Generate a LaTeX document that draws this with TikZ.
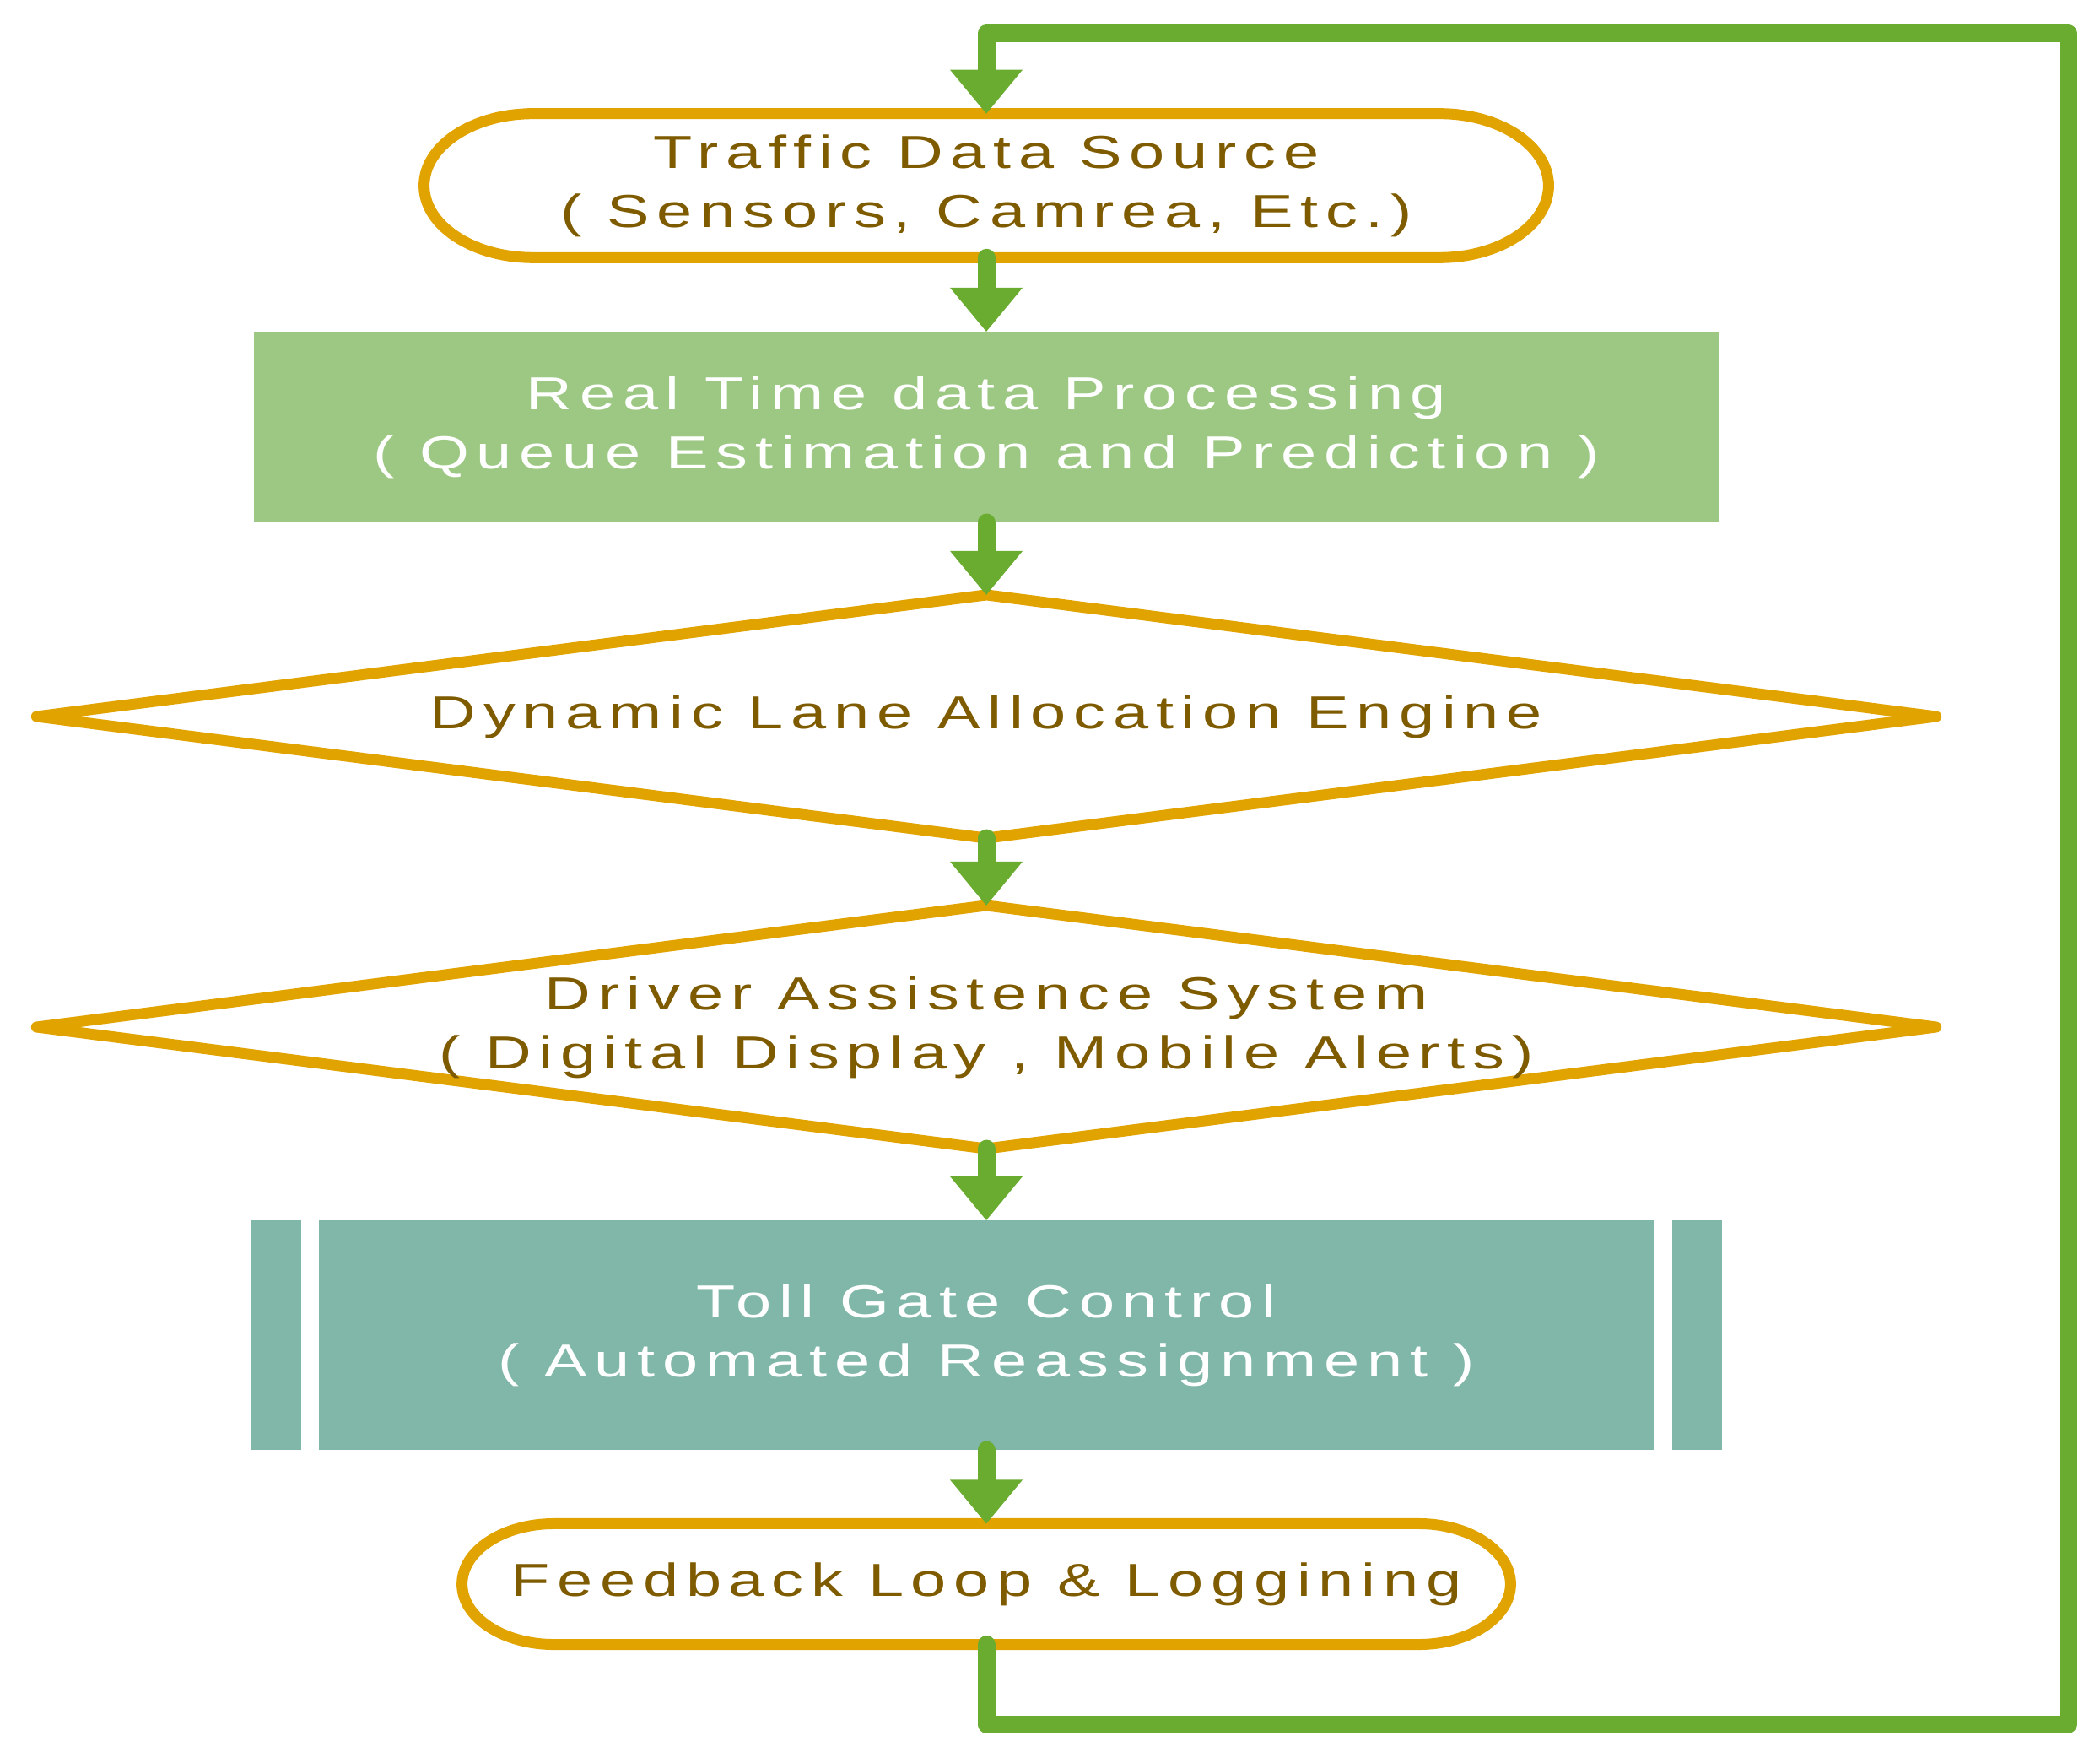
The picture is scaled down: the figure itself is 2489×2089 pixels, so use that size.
\documentclass[tikz,border=0pt]{standalone}
\usepackage{fontspec}
\setmainfont{Liberation Sans}[FakeStretch=1.38,LetterSpace=16]
\usetikzlibrary{arrows.meta,shapes.geometric}

\definecolor{edgeorange}{HTML}{E0A300}
\definecolor{textbrown}{HTML}{7F5B00}
\definecolor{flowgreen}{HTML}{6AAC2F}
\definecolor{procgreen}{HTML}{9DC884}
\definecolor{gateteal}{HTML}{80B7A8}

\begin{document}
\begin{tikzpicture}[x=0.01cm, y=-0.01cm,
    txt/.style={font=\fontsize{15.6}{19.9}\selectfont, align=center, inner sep=0pt, outer sep=0pt},
    terminal/.style={txt, text=textbrown},
    process/.style={txt, text=white, fill=procgreen, minimum width=17.36cm, minimum height=2.26cm},
    decision/.style={txt, text=textbrown, diamond, aspect=7.8, draw=edgeorange, line width=0.13cm,
        line join=round, fill=white, minimum width=22.5cm, minimum height=2.88cm},
    gatebox/.style={txt, text=white, fill=gateteal, minimum width=17.42cm, minimum height=2.72cm},
    edge/.style={draw=edgeorange, line width=0.13cm},
    flow/.style={draw=flowgreen, line width=0.21cm, line cap=round, line join=round,
        -{Triangle[width=0.86cm, length=0.52cm, line width=0pt]}}]

    % Parametry
    \def\rxa{1.29cm}   % end radius, top terminal
    \def\rya{0.8525cm}
    \def\rxb{1.09cm}   % end radius, bottom terminal
    \def\ryb{0.715cm}

    \useasboundingbox (0,0) rectangle (2489,2089);

    % Source
    \node[terminal, minimum width=13.32cm, minimum height=1.705cm] (src) at (1169,220)
        {Traffic Data Source\\( Sensors, Camrea, Etc.)};
    \draw[edge] ([xshift=\rxa]src.north west) -- ([xshift=-\rxa]src.north east)
        arc[start angle=90, end angle=-90, x radius=\rxa, y radius=\rya]
        -- ([xshift=\rxa]src.south west)
        arc[start angle=270, end angle=90, x radius=\rxa, y radius=\rya] -- cycle;

    % Processing
    \node[process] (proc) at (1169,506)
        {Real Time data Processing\\( Queue Estimation and Prediction )};

    % Decisions
    \node[decision] (dyn) at (1169,849) {Dynamic Lane Allocation Engine};
    \node[decision] (drv) at (1169,1217)
        {Driver Assistence System\\( Digital Display , Mobile Alerts)};

    % Toll gate
    \node[gatebox] (gate) at (1169,1582)
        {Toll Gate Control\\( Automated Reassignment )};
    \draw[white, line width=0.21cm] ([xshift=0.695cm]gate.north west) -- ([xshift=0.695cm]gate.south west);
    \draw[white, line width=0.21cm] ([xshift=-0.695cm]gate.north east) -- ([xshift=-0.695cm]gate.south east);

    % Feedback
    \node[terminal, minimum width=12.42cm, minimum height=1.43cm] (fb) at (1169,1877)
        {Feedback Loop \& Loggining};
    \draw[edge] ([xshift=\rxb]fb.north west) -- ([xshift=-\rxb]fb.north east)
        arc[start angle=90, end angle=-90, x radius=\rxb, y radius=\ryb]
        -- ([xshift=\rxb]fb.south west)
        arc[start angle=270, end angle=90, x radius=\rxb, y radius=\ryb] -- cycle;

    % Arrows
    \draw[flow] (src.south) -- (proc.north);
    \draw[flow] (proc.south) -- (dyn.north);
    \draw[flow] (dyn.south) -- (drv.north);
    \draw[flow] (drv.south) -- (gate.north);
    \draw[flow] (gate.south) -- (fb.north);

    % Loop back
    \coordinate (loopbr) at (2451,2043);
    \coordinate (looptr) at (2451,39.5);
    \draw[flow] (fb.south) |- (loopbr) -- (looptr) -| (src.north);
\end{tikzpicture}
\end{document}
